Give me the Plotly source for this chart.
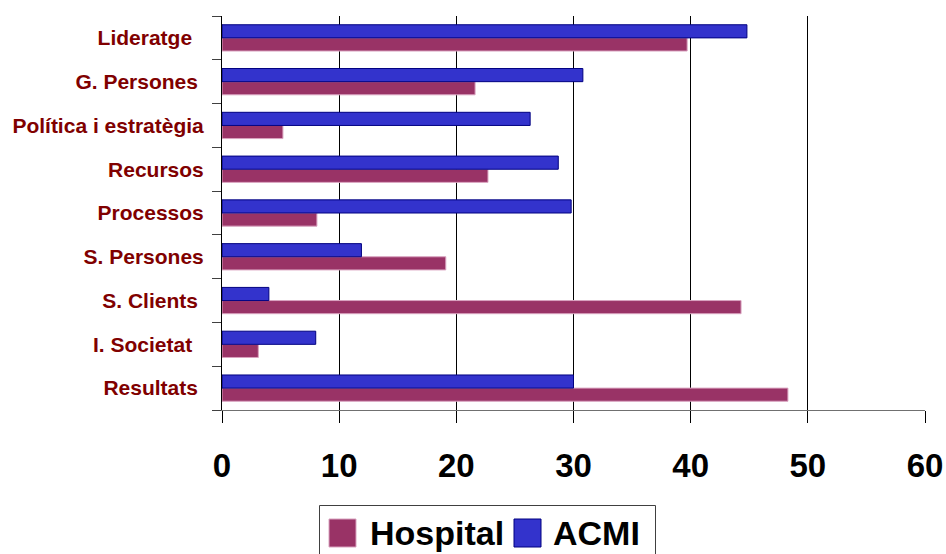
import plotly.graph_objects as go

# Criteria, listed from the bottom of the chart to the top
categories = [
    "Resultats\u00a0",
    "I. Societat\u00a0\u00a0",
    "S. Clients\u00a0",
    "S. Persones",
    "Processos",
    "Recursos",
    "Política i estratègia",
    "G. Persones\u00a0",
    "Lideratge\u00a0\u00a0",
]
hospital = [48.3, 3.1, 44.3, 19.1, 8.1, 22.7, 5.2, 21.6, 39.7]
acmi = [30.0, 8.0, 4.0, 11.9, 29.8, 28.7, 26.3, 30.8, 44.8]
x_ticks = [0, 10, 20, 30, 40, 50, 60]

FONT = "Liberation Sans, Arial, sans-serif"
MAROON = "#993366"
BLUE = "#3333CC"

W, H = 946, 554
ML, MR, MT, MB = 222, 21, 16, 144
PW, PH = W - ML - MR, H - MT - MB


def px_x(x):
    return (x - ML) / PW


def px_y(y):
    return (H - MB - y) / PH


fig = go.Figure()
fig.add_trace(go.Bar(
    y=categories, x=hospital, orientation="h", name="Hospital",
    marker=dict(color=MAROON, line=dict(color="#d9a3bf", width=1)),
    showlegend=False,
))
fig.add_trace(go.Bar(
    y=categories, x=acmi, orientation="h", name="ACMI",
    marker=dict(color=BLUE, line=dict(color="#000080", width=1)),
    showlegend=False,
))

shapes = []
annotations = []

# Legend box (runs off the bottom edge of the page)
shapes.append(dict(
    type="rect", xref="paper", yref="paper",
    x0=px_x(319.5), x1=px_x(655.5), y0=px_y(505.5), y1=px_y(600),
    line=dict(color="#404040", width=1), fillcolor="rgba(0,0,0,0)",
))
legend_items = [
    ("Hospital", MAROON, "#d9a3bf", 329, 368),
    ("ACMI", BLUE, "#000080", 514, 551),
]
for label, fill, edge, sx, tx in legend_items:
    shapes.append(dict(
        type="rect", xref="paper", yref="paper",
        x0=px_x(sx), x1=px_x(sx + 27), y0=px_y(519), y1=px_y(547),
        line=dict(color=edge, width=1), fillcolor=fill,
    ))
    annotations.append(dict(
        text=label, xref="paper", yref="paper",
        x=px_x(tx), y=px_y(533), xanchor="left", yanchor="middle",
        showarrow=False,
        font=dict(family=FONT, size=34, color="black", weight="bold"),
    ))

fig.update_layout(
    width=W, height=H,
    margin=dict(l=ML, r=MR, t=MT, b=MB, pad=0, autoexpand=False),
    paper_bgcolor="white", plot_bgcolor="white",
    barmode="group", bargap=0.4, bargroupgap=0,
    shapes=shapes, annotations=annotations,
    showlegend=False,
    xaxis=dict(
        range=[0, 60], tickvals=x_ticks, ticktext=[str(v) for v in x_ticks],
        showgrid=True, gridcolor="black", gridwidth=1,
        showline=True, linecolor="#707070", linewidth=1,
        ticks="outside", ticklen=12, tickcolor="black", tickwidth=1,
        ticklabelstandoff=14, automargin=False,
        tickfont=dict(family=FONT, size=33, color="black", weight="bold"),
        zeroline=False, fixedrange=True,
    ),
    yaxis=dict(
        type="category", categoryorder="array", categoryarray=categories,
        range=[-0.5, len(categories) - 0.5],
        showline=True, linecolor="black", linewidth=1,
        ticks="outside", tickson="boundaries", ticklen=9,
        tickcolor="#404040", tickwidth=1,
        ticklabelstandoff=13, automargin=False,
        tickfont=dict(family=FONT, size=21, color="#800000", weight="bold"),
        showgrid=False, zeroline=False, fixedrange=True,
    ),
)

fig.write_html("out.html")
